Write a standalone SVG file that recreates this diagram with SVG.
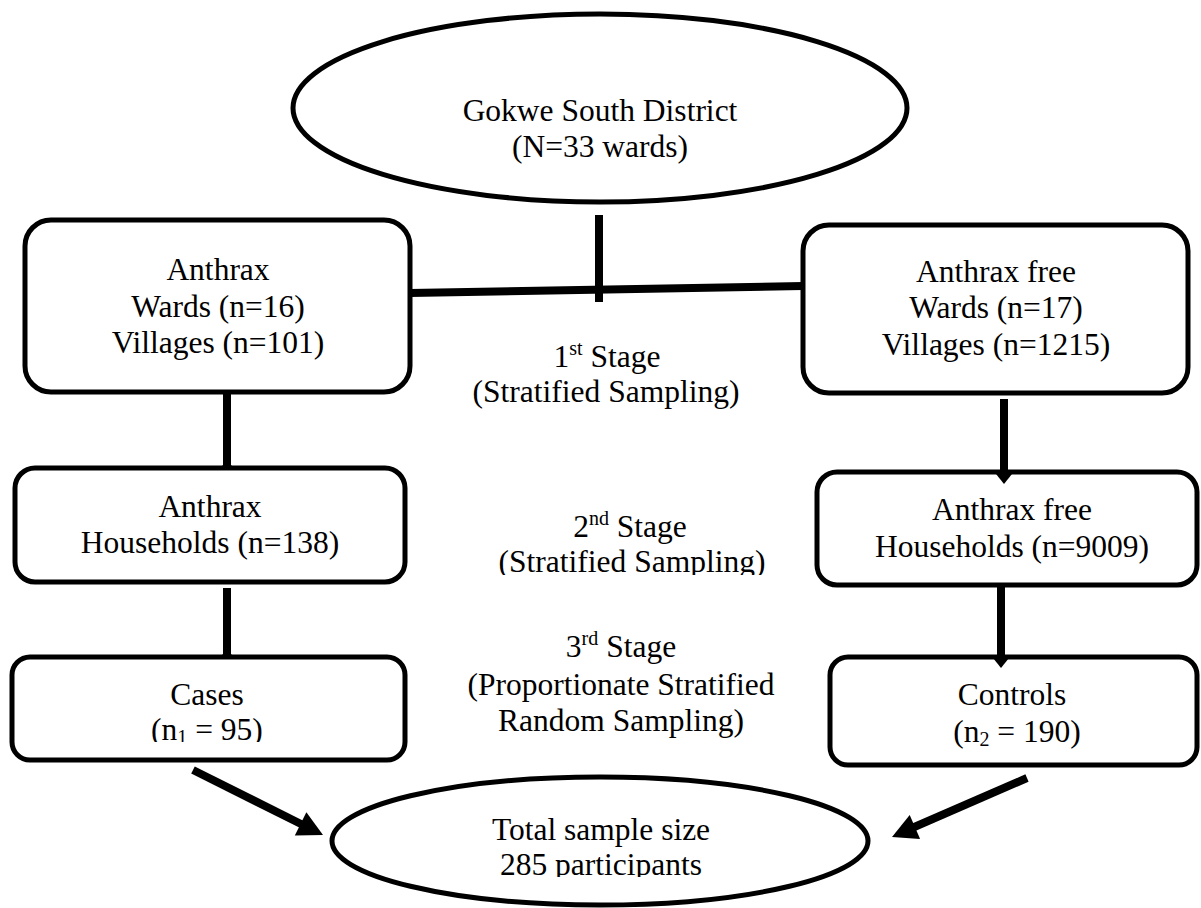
<svg xmlns="http://www.w3.org/2000/svg" width="1201" height="908" viewBox="0 0 1201 908">
<style>
.box{fill:#fff;stroke:#000;stroke-width:5}
.t{font-family:"Liberation Serif","Times New Roman",serif;font-size:31.5px;fill:#000;text-anchor:middle}
.sm{font-size:20px}
.con{stroke:#000;stroke-width:8;fill:none}
.head{fill:#000}
</style>
<defs>
<clipPath id="c1"><rect x="0" y="0" width="1201" height="742"/></clipPath>
<clipPath id="c2"><rect x="0" y="0" width="1201" height="575"/></clipPath>
<clipPath id="c3"><rect x="0" y="0" width="1201" height="877"/></clipPath>
</defs>
<rect width="1201" height="908" fill="#fff"/>

<g id="district">
<ellipse class="box" cx="600" cy="108" rx="307" ry="94"/>
<text class="t" x="600" y="121">Gokwe South District</text>
<text class="t" x="600" y="157">(N=33 wards)</text>
</g>

<g id="anthrax-wards">
<rect class="box" x="25" y="220" width="385" height="172" rx="26"/>
<text class="t" x="218" y="280">Anthrax</text>
<text class="t" x="218" y="317">Wards (n=16)</text>
<text class="t" x="218" y="353">Villages (n=101)</text>
</g>

<g id="free-wards">
<rect class="box" x="803" y="225" width="385" height="168" rx="26"/>
<text class="t" x="996" y="282">Anthrax free</text>
<text class="t" x="996" y="318">Wards (n=17)</text>
<text class="t" x="996" y="355">Villages (n=1215)</text>
</g>

<g id="stage1">
<text class="t" x="607" y="367">1<tspan class="sm" dy="-12">st</tspan><tspan dy="12"> Stage</tspan></text>
<text class="t" x="606" y="402">(Stratified Sampling)</text>
</g>

<g id="anthrax-households">
<rect class="box" x="15" y="468" width="390" height="114" rx="20"/>
<text class="t" x="210" y="517">Anthrax</text>
<text class="t" x="210" y="553">Households (n=138)</text>
</g>

<g id="free-households">
<rect class="box" x="817" y="472" width="380" height="113" rx="20"/>
<text class="t" x="1012" y="520">Anthrax free</text>
<text class="t" x="1012" y="557">Households (n=9009)</text>
</g>

<g id="stage2">
<text class="t" x="630" y="537">2<tspan class="sm" dy="-12">nd</tspan><tspan dy="12"> Stage</tspan></text>
<text class="t" x="632" y="572" clip-path="url(#c2)">(Stratified Sampling)</text>
</g>

<g id="cases">
<rect class="box" x="12" y="657" width="393" height="103" rx="18"/>
<text class="t" x="207" y="705">Cases</text>
<text class="t" x="207" y="740" clip-path="url(#c1)">(n<tspan class="sm" dy="4">1</tspan><tspan dy="-4"> = 95)</tspan></text>
</g>

<g id="controls">
<rect class="box" x="830" y="657" width="367" height="108" rx="18"/>
<text class="t" x="1012" y="705">Controls</text>
<text class="t" x="1017" y="742">(n<tspan class="sm" dy="4">2</tspan><tspan dy="-4"> = 190)</tspan></text>
</g>

<g id="stage3">
<text class="t" x="621" y="657">3<tspan class="sm" dy="-12">rd</tspan><tspan dy="12"> Stage</tspan></text>
<text class="t" x="621" y="695">(Proportionate Stratified</text>
<text class="t" x="621" y="731">Random Sampling)</text>
</g>

<g id="total">
<ellipse class="box" cx="600" cy="841" rx="268" ry="64"/>
<text class="t" x="601" y="840">Total sample size</text>
<text class="t" x="601" y="875" clip-path="url(#c3)">285 participants</text>
</g>

<g id="connectors">
<line class="con" x1="599" y1="215" x2="599" y2="302"/>
<line class="con" x1="410" y1="293" x2="803" y2="286"/>
<line class="con" x1="227" y1="394" x2="227" y2="466"/>
<polygon class="head" points="222,465 232,465 227,470"/>
<line class="con" x1="227" y1="588" x2="227" y2="655"/>
<polygon class="head" points="222,654 232,654 227,659"/>
<line class="con" x1="1004" y1="399" x2="1004" y2="475"/>
<polygon class="head" points="996,474 1012,474 1004,484"/>
<line class="con" x1="1001" y1="585" x2="1001" y2="659"/>
<polygon class="head" points="993,658 1009,658 1001,668"/>
<line class="con" x1="193" y1="770" x2="305" y2="826"/>
<polygon class="head" points="323,835 294.8,835.4 306.4,812.2"/>
<line class="con" x1="1027" y1="778" x2="912" y2="828"/>
<polygon class="head" points="892,837 920.1,838.9 909.7,815.1"/>
</g>
</svg>
